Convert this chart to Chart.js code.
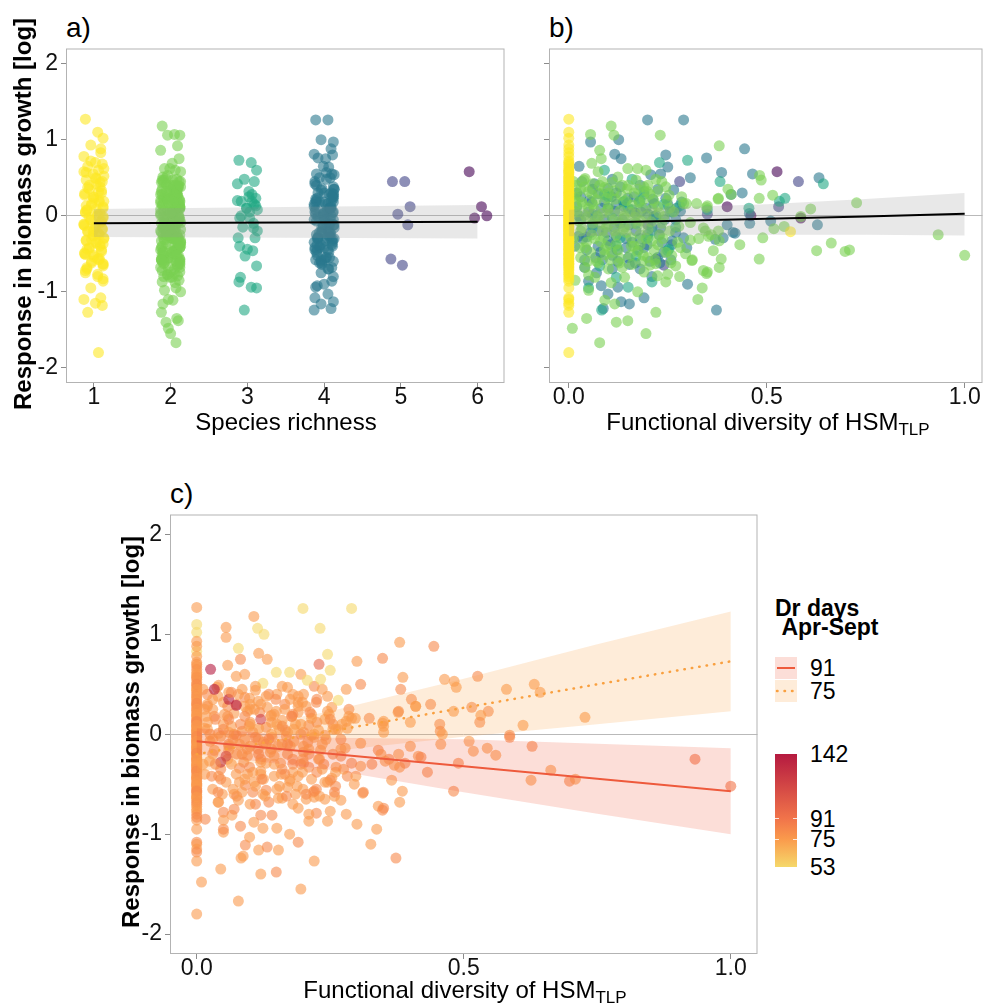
<!DOCTYPE html>
<html>
<head>
<meta charset="utf-8">
<script src="https://cdn.jsdelivr.net/npm/chart.js@4.4.1/dist/chart.umd.min.js"></script>
<style>
  html, body { margin: 0; padding: 0; background: #fff; }
  body { width: 988px; height: 1006px; position: relative; overflow: hidden;
         font-family: "Liberation Sans", Arial, sans-serif; color: #000; }
  .box { position: absolute; }
  .txt { position: absolute; white-space: nowrap; line-height: 1; }
  .mid { transform: translate(-50%, -50%); }
  .ytitle { transform: translate(-50%, -50%) rotate(-90deg); font-weight: bold; font-size: 24px; }
  .xtitle { font-size: 24px; }
  .tag { font-size: 28px; }
  .sub { font-size: 17px; position: relative; top: 5px; }
  .leg { font-size: 23px; }
</style>
</head>
<body>

<div class="box" style="left:0;top:43px;width:510px;height:380px"><canvas id="chartA"></canvas></div>
<div class="box" style="left:541px;top:43px;width:447px;height:380px"><canvas id="chartB"></canvas></div>
<div class="box" style="left:104px;top:509px;width:659px;height:485px"><canvas id="chartC"></canvas></div>

<div class="txt tag" style="left:66px;top:14px">a)</div>
<div class="txt tag" style="left:549px;top:14px">b)</div>
<div class="txt tag" style="left:170px;top:480px">c)</div>

<div class="txt ytitle" style="left:23px;top:214px">Response in biomass growth [log]</div>
<div class="txt ytitle" style="left:131px;top:732px">Response in biomass growth [log]</div>

<div class="txt xtitle mid" style="left:286px;top:422px">Species richness</div>
<div class="txt xtitle mid" style="left:768px;top:422px">Functional diversity of HSM<span class="sub">TLP</span></div>
<div class="txt xtitle mid" style="left:465px;top:990px">Functional diversity of HSM<span class="sub">TLP</span></div>

<div id="legend"></div>

<script>
// axis ticks
const yTicks = [-2, -1, 0, 1, 2];
const richTicks = [1, 2, 3, 4, 5, 6];
const fdTicks = [0, 0.5, 1];
const drBreaks = [53, 75, 91, 142];
const drFits = [91, 75];

// observations by species richness: [FD of HSM_TLP, response, Dr days Apr-Sept]
const rich1 = [
  [0,1.27,75],[0,1.10,53],[0,1.02,53],[0,0.93,75],[0,0.83,53],[0,0.78,75],[0,0.70,82],[0,0.68,75],
  [0,0.65,82],[0,0.60,75],[0,0.55,82],[0,0.52,75],[0,0.47,82],[0,0.42,75],[0,0.38,75],[0,0.35,82],
  [0,0.30,75],[0,0.27,82],[0,0.22,75],[0,0.18,75],[0,0.14,82],[0,0.10,75],[0,0.07,82],[0,0.04,75],
  [0,0.00,75],[0,-0.03,82],[0,-0.06,75],[0,-0.09,82],[0,-0.12,75],[0,-0.15,75],[0,-0.18,82],[0,-0.21,75],
  [0,-0.24,82],[0,-0.27,75],[0,-0.30,75],[0,-0.33,82],[0,-0.36,75],[0,-0.40,82],[0,-0.43,75],[0,-0.47,75],
  [0,-0.50,82],[0,-0.54,75],[0,-0.58,82],[0,-0.62,75],[0,-0.66,75],[0,-0.70,82],[0,-0.75,75],[0,-0.80,82],
  [0,-0.86,75],[0,-0.95,75],[0,-1.08,82],[0,-1.10,75],[0,-1.15,75],[0,-1.18,82],[0,-1.27,75],[0,-1.80,75],
  [0.56,-0.21,75],
  [0,0.62,75],[0,0.57,82],[0,0.49,75],[0,0.44,75],[0,0.40,82],[0,0.33,75],[0,0.29,75],[0,0.24,82],
  [0,0.20,75],[0,0.16,75],[0,0.12,82],[0,0.08,75],[0,0.05,75],[0,0.02,82],[0,-0.01,75],[0,-0.05,75],
  [0,-0.08,82],[0,-0.11,75],[0,-0.14,75],[0,-0.17,82],[0,-0.20,75],[0,-0.23,75],[0,-0.26,82],[0,-0.29,75],
  [0,-0.32,75],[0,-0.35,82],[0,-0.38,75],[0,-0.42,75],[0,-0.45,82],[0,-0.49,75],[0,-0.52,75],[0,-0.56,82],
  [0,-0.60,75],[0,-0.64,75],[0,-0.68,82],[0,-0.72,75],[0,-0.77,75],[0,-0.83,82],[0,0.72,75],[0,0.88,75],
  [0,0.58,75],[0,0.50,82],[0,0.45,75],[0,0.37,75],[0,0.31,82],[0,0.25,75],[0,0.19,75],[0,0.13,82],
  [0,0.09,75],[0,0.03,75],[0,-0.02,82],[0,-0.07,75],[0,-0.13,75],[0,-0.19,82],[0,-0.25,75],[0,-0.31,75],
  [0,-0.37,82],[0,-0.44,75],[0,-0.51,75],[0,-0.57,82],[0,-0.63,75]
];
const rich2 = [
  [0.107,1.18,75],[0.055,1.07,75],[0.114,1.06,53],[0.231,1.06,53],[0.38,0.92,75],[0.078,0.86,53],
  [0.058,0.69,75],[0.082,0.75,82],[0.174,0.62,53],[0.195,0.60,75],[0.149,0.62,53],[0.074,0.58,75],
  [0.124,0.51,53],[0.17,0.47,75],[0.22,0.48,82],[0.041,0.49,75],[0.19,0.38,75],[0.224,0.32,82],
  [0.253,0.27,75],[0.29,0.16,75],[0.323,0.16,82],[0.348,0.11,75],[0.377,0.22,75],[0.402,0.35,82],
  [0.05,0.32,75],[0.033,0.18,82],[0.095,0.23,75],[0.132,0.27,75],[0.041,0.01,75],[0.074,-0.01,82],
  [0.141,-0.03,75],[0.182,-0.07,75],[0.24,-0.01,82],[0.278,-0.14,75],[0.307,-0.09,75],[0.34,-0.16,82],
  [0.033,-0.16,75],[0.058,-0.25,75],[0.116,-0.20,82],[0.157,-0.29,75],[0.041,-0.42,75],[0.091,-0.51,82],
  [0.174,-0.47,75],[0.199,-0.55,75],[0.282,-0.42,82],[0.311,-0.59,75],[0.34,-0.72,75],[0.348,-0.76,82],
  [0.38,-0.68,75],[0.25,-0.77,75],[0.224,-0.79,82],[0.041,-0.68,75],[0.066,-0.81,75],[0.016,-0.85,82],
  [0.05,-0.98,75],[0.107,-0.88,75],[0.141,-0.81,82],[0.174,-1.00,75],[0.116,-1.16,75],[0.091,-1.11,82],
  [0.045,-1.35,75],[0.12,-1.40,75],[0.149,-1.38,82],[0.22,-1.27,75],[0.195,-1.55,75],[0.078,-1.67,75],
  [0.009,-1.48,75],[0.481,-0.57,82],[0.481,0.23,75],[0.486,0.47,75],[0.365,-0.46,75],[0.432,-0.38,82],
  [0.482,0.53,75],[0.515,0.27,82],[0.727,0.17,75],[0.611,0.09,75],[0.586,-0.01,82],[0.544,-0.14,75],
  [0.518,-0.17,75],[0.49,-0.29,82],[0.663,-0.36,75],[0.626,-0.46,75],[0.698,-0.47,82],[0.709,-0.45,75],
  [0.933,-0.25,91],[1.0,-0.52,91],[0.385,-0.57,75],[0.35,-0.74,82],[0.337,-0.95,75],[0.326,-1.10,75],
  [0.312,-0.58,82],[0.28,-0.80,75],[0.245,-0.87,75],[0.378,-0.20,75],[0.36,-0.25,82],[0.345,-0.20,75],
  [0.35,0.13,75],[0.41,0.28,75],[0.378,0.23,82],[0.297,0.16,75],[0.307,-0.32,75],[0.328,-0.30,82],
  [0.353,-0.27,75],[0.38,-0.33,75],
  [0.012,0.45,75],[0.02,0.40,82],[0.03,0.35,75],[0.06,0.42,75],[0.09,0.37,82],[0.11,0.44,75],
  [0.15,0.40,75],[0.02,0.28,82],[0.07,0.21,75],[0.10,0.12,75],[0.13,0.07,82],[0.16,0.14,75],
  [0.19,0.22,75],[0.21,0.09,82],[0.015,0.06,75],[0.05,0.10,75],[0.085,0.03,82],[0.17,0.02,75],
  [0.025,-0.07,75],[0.06,-0.10,82],[0.10,-0.12,75],[0.14,-0.15,75],[0.20,-0.18,82],[0.23,-0.25,75],
  [0.012,-0.30,75],[0.08,-0.34,82],[0.12,-0.37,75],[0.18,-0.38,75],[0.21,-0.33,82],[0.03,-0.55,75],
  [0.07,-0.60,75],[0.13,-0.56,82],[0.16,-0.64,75],[0.22,-0.63,75],[0.26,-0.52,82],[0.10,-0.70,75],
  [0.19,-0.74,75],[0.05,-0.78,82],[0.27,-0.66,75],[0.09,-0.45,75],
  [0.015,0.25,75],[0.035,0.15,82],[0.045,-0.02,75],[0.065,0.08,75],[0.075,0.30,82],[0.085,0.45,75],
  [0.095,-0.15,75],[0.105,0.02,82],[0.115,0.33,75],[0.125,-0.08,75],[0.135,0.40,82],[0.145,-0.22,75],
  [0.155,0.05,75],[0.165,0.30,82],[0.175,-0.12,75],[0.185,0.10,75],[0.195,-0.30,82],[0.205,0.28,75],
  [0.215,-0.45,75],[0.225,0.12,82],[0.235,-0.10,75],[0.245,0.38,75],[0.255,-0.20,82],[0.265,0.05,75],
  [0.275,-0.35,75],[0.285,0.25,82],[0.295,-0.50,75],[0.03,-0.20,75],[0.045,-0.35,82],[0.055,-0.48,75],
  [0.065,-0.30,75],[0.075,-0.62,82],[0.085,-0.20,75],[0.095,-0.40,75],[0.105,-0.58,82],[0.115,-0.05,75],
  [0.125,-0.45,75],[0.135,-0.68,82],[0.145,0.20,75],[0.155,-0.52,75],[0.165,-0.40,82],[0.175,0.35,75],
  [0.185,-0.60,75],[0.195,0.00,82],[0.205,-0.65,75],[0.215,0.20,75],[0.225,-0.38,82],[0.235,0.45,75],
  [0.245,-0.48,75],[0.255,0.10,82],[0.02,0.05,75],[0.04,0.38,75],[0.06,0.15,82],[0.08,-0.10,75],
  [0.10,0.30,75],[0.12,-0.25,82],[0.14,0.00,75],[0.16,-0.10,75],[0.18,-0.25,82],[0.20,0.40,75],
  [0.018,0.18,75],[0.028,-0.42,82],[0.038,0.47,75],[0.048,-0.60,75],[0.058,0.28,82],[0.068,-0.05,75],
  [0.078,0.40,75],[0.088,-0.28,82],[0.098,0.08,75],[0.108,-0.48,75],[0.118,0.22,82],[0.128,-0.62,75],
  [0.138,-0.18,75],[0.148,0.35,82],[0.158,-0.40,75],[0.168,-0.02,75],[0.178,0.18,82],[0.188,-0.52,75],
  [0.198,0.32,75],[0.208,-0.08,82],[0.218,-0.58,75],[0.228,0.04,75],[0.238,-0.30,82],[0.248,0.20,75],
  [0.258,-0.62,75]
];
const rich3 = [
  [0.30,0.73,75],[0.229,0.70,100],[0.09,0.60,75],[0.16,0.48,75],[0.382,0.45,82],[0.643,0.42,75],
  [0.19,0.32,75],[0.546,0.23,82],[0.14,0.19,75],[0.532,0.19,75],[0.455,0.10,82],[0.35,0.08,75],
  [0.22,-0.03,75],[0.11,-0.03,82],[0.06,-0.16,75],[0.27,-0.15,75],[0.20,-0.29,82],[0.13,-0.29,75],
  [0.253,-0.44,75],[0.25,-0.46,82],[0.17,-0.53,75],[0.078,-0.66,75],[0.12,-0.81,82],[0.21,-0.87,75],
  [0.15,-0.94,75],[0.05,-0.95,82],[0.083,-1.24,75],[0.24,0.15,75],[0.18,0.20,82],[0.10,0.25,75],
  [0.28,0.13,75],[0.07,0.00,82],[0.09,0.28,75],[0.15,0.10,75],[0.21,-0.20,82],[0.12,-0.40,75],
  [0.26,0.05,75],[0.17,-0.10,82]
];
const rich4 = [
  [0.199,1.26,53],[0.29,1.26,53],[0.055,0.97,75],[0.126,1.00,53],[0.444,0.88,82],[0.116,0.81,75],
  [0.132,0.75,75],[0.245,0.80,53],[0.348,0.76,82],[0.25,0.64,53],[0.026,0.65,142],[0.207,0.54,53],
  [0.232,0.55,53],[0.386,0.57,75],[0.307,0.50,82],[0.632,0.50,75],[0.464,0.55,75],[0.033,0.45,142],
  [0.438,0.30,82],[0.41,0.28,75],[0.099,0.36,75],[0.074,0.29,142],[0.149,0.23,75],[0.178,0.18,82],
  [0.215,0.16,75],[0.245,0.23,75],[0.265,0.34,53],[0.058,0.18,82],[0.02,0.12,75],[0.116,0.06,75],
  [0.166,0.04,82],[0.215,-0.01,75],[0.282,0.06,75],[0.456,0.03,82],[0.232,-0.16,75],[0.199,-0.25,75],
  [0.29,-0.29,82],[0.024,-0.27,75],[0.074,-0.40,75],[0.099,-0.33,82],[0.145,-0.42,75],[0.19,-0.42,75],
  [0.224,-0.55,82],[0.153,-0.64,75],[0.124,-0.60,75],[0.082,-0.92,82],[0.124,-0.94,75],[0.099,-1.03,75],
  [0.132,-1.13,82],[0.153,-1.16,75],[0.087,-1.22,75],[0.373,-1.24,82],[0.261,-0.33,75],[0.37,-0.31,75],
  [0.39,-0.29,82],[0.415,-0.22,75],[0.40,-0.12,75],[0.628,-0.12,82],[0.51,-0.07,75],[0.457,-0.10,75],
  [0.42,-0.23,82],[0.298,-0.42,75],[0.26,-0.38,75],[0.05,0.05,82],[0.09,-0.05,75],[0.13,-0.10,75],
  [0.17,-0.20,82],[0.06,-0.12,75],[0.11,-0.52,75],[0.04,-0.58,82],[0.18,-0.70,75],[0.21,-0.80,75],
  [0.07,-0.75,82],[0.14,0.12,75],[0.12,0.15,120],[0.03,-0.05,75],[0.16,-0.35,82],[0.12,-0.28,75],
  [0.08,-0.48,75],[0.20,0.02,82],[0.06,0.35,142],[0.18,0.40,75],[0.11,0.48,75],[0.27,-0.05,82],
  [0.23,-0.62,75],[0.05,-0.86,75],[0.19,-1.08,82],[0.30,-0.90,75],[0.045,-0.28,142],[0.055,-0.22,130],
  [0.03,0.25,75],[0.045,-0.45,82],[0.06,0.02,75],[0.075,-0.20,75],[0.09,0.18,82],[0.105,-0.38,75],
  [0.12,0.30,75],[0.135,-0.05,82],[0.15,-0.55,75],[0.165,0.25,75],[0.18,-0.30,82],[0.195,0.10,75],
  [0.21,-0.15,75],[0.225,0.35,82],[0.24,-0.48,75],[0.255,0.05,75],[0.27,-0.22,82],[0.285,0.18,75],
  [0.04,-0.68,75],[0.065,0.42,82],[0.085,-0.58,75],[0.10,0.10,75],[0.115,-0.15,82],[0.13,0.38,75],
  [0.145,-0.30,75],[0.16,0.08,82],[0.175,-0.45,75],[0.19,0.28,75],[0.205,-0.60,82],[0.22,0.00,75],
  [0.235,-0.35,75],[0.25,0.15,82],[0.015,-0.40,75],[0.02,0.30,75],[0.11,-0.70,82],
  [0.025,0.00,75],[0.035,-0.30,82],[0.052,0.20,75],[0.068,-0.55,75],[0.082,0.10,82],[0.095,-0.22,75],
  [0.108,0.25,75],[0.122,-0.45,82],[0.138,0.18,75],[0.152,-0.12,75],[0.168,-0.62,82],[0.182,0.05,75],
  [0.198,-0.38,75],[0.212,0.22,82],[0.228,-0.25,75],[0.242,-0.05,75],[0.258,-0.58,82],[0.272,0.10,75]
];
const rich5 = [
  [0.28,0.45,75],[0.58,0.45,75],[0.53,0.12,82],[0.35,0.02,75],[0.20,-0.12,75],[0.22,-0.57,82],[0.24,-0.65,75]
];
const rich6 = [
  [0.526,0.58,82],[0.40,0.12,75],[0.46,0.00,75],[0.586,-0.03,82]
];
const groups = [rich1, rich2, rich3, rich4, rich5, rich6];

// fitted lines and confidence bands
const fitAX = [1, 6];
const fitAY = [-0.10, -0.08];
const fitALo = [-0.28, -0.30];
const fitAHi = [0.09, 0.14];

const fitBX = [0, 0.25, 0.5, 0.75, 1];
const fitBY = [-0.10, -0.07, -0.04, -0.01, 0.025];
const fitBLo = [-0.27, -0.25, -0.25, -0.25, -0.26];
const fitBHi = [0.08, 0.11, 0.15, 0.22, 0.30];

const fitCX = [0, 0.25, 0.5, 0.75, 1];
const fit91Y = [-0.07, -0.195, -0.32, -0.445, -0.57];
const fit91Lo = [-0.20, -0.355, -0.58, -0.795, -1.00];
const fit91Hi = [0.06, -0.035, -0.05, -0.095, -0.14];
const fit75Y = [-0.20, 0.03, 0.265, 0.50, 0.73];
const fit75Lo = [-0.38, -0.17, -0.025, 0.10, 0.23];
const fit75Hi = [-0.02, 0.23, 0.555, 0.90, 1.23];

// styling
const viridis = ['#fde725', '#7ad151', '#22a884', '#2a788e', '#414487', '#440154'];
const drStops = [[53, [245, 216, 106]], [75, [250, 154, 76]], [91, [241, 116, 74]], [142, [181, 26, 64]]];
const jitter = [-0.11, 0.05, 0.12, -0.04, 0.09, -0.13, 0.02, 0.11, -0.08, 0.06, -0.01, 0.13,
                -0.10, 0.03, 0.08, -0.06, 0.10, -0.12, 0.00, 0.07, -0.03, 0.12, -0.09];
const fitColor = { 91: '#ee5a3c', 75: '#f9a040' };
const bandColor = { 91: 'rgba(239,90,60,0.2)', 75: 'rgba(249,160,64,0.2)' };
const greyBand = 'rgba(150,150,150,0.22)';
const font = '"Liberation Sans", Arial, sans-serif';

function drRgb(v) {
    for (let i = 1; i < drStops.length; i++) {
        const [v0, c0] = drStops[i - 1];
        const [v1, c1] = drStops[i];
        if (v <= v1 || i === drStops.length - 1) {
            const t = Math.max(0, Math.min(1, (v - v0) / (v1 - v0)));
            return c0.map((c, k) => Math.round(c + (c1[k] - c) * t));
        }
    }
}
function drColor(v, a) {
    const c = drRgb(v);
    return `rgba(${c[0]},${c[1]},${c[2]},${a})`;
}
function hexA(hex, a) {
    const n = parseInt(hex.slice(1), 16);
    return `rgba(${n >> 16},${(n >> 8) & 255},${n & 255},${a})`;
}

const frame = {
    id: 'frame',
    afterDraw(chart) {
        const { ctx, chartArea: a } = chart;
        ctx.save();
        ctx.strokeStyle = '#b3b3b3';
        ctx.lineWidth = 1;
        ctx.strokeRect(a.left + 0.5, a.top + 0.5, a.width - 1, a.height - 1);
        ctx.restore();
    }
};

function points(data, color, order) {
    return { type: 'scatter', data, backgroundColor: color, borderWidth: 0,
             pointRadius: 5.5, pointHoverRadius: 5.5, order };
}
function line(xs, ys, color, width, dash) {
    return { type: 'line', data: xs.map((x, i) => ({ x, y: ys[i] })), borderColor: color,
             borderWidth: width, borderDash: dash || [], borderCapStyle: dash ? 'round' : 'butt',
             pointRadius: 0, tension: 0, fill: false, order: 1 };
}
// two datasets: lower edge, then upper edge filled down to it
function band(xs, lo, hi, color, lowIndex) {
    return [
        { type: 'line', data: xs.map((x, i) => ({ x, y: lo[i] })), borderWidth: 0, pointRadius: 0,
          tension: 0, fill: false, order: 2 },
        { type: 'line', data: xs.map((x, i) => ({ x, y: hi[i] })), borderWidth: 0, pointRadius: 0,
          tension: 0, fill: { target: lowIndex }, backgroundColor: color, order: 2 }
    ];
}

function scales(xMin, xMax, xTicks, xLabel, yWidth, showY) {
    return {
        x: {
            type: 'linear', min: xMin, max: xMax,
            afterBuildTicks: s => { s.ticks = xTicks.map(v => ({ value: v })); },
            afterFit: s => { s.height = 40; s.paddingLeft = 0; s.paddingRight = 0; },
            ticks: { callback: xLabel, color: '#111', font: { family: font, size: 23 },
                     padding: -4, maxRotation: 0, autoSkip: false },
            grid: { drawOnChartArea: false, tickLength: 5, color: '#8c8c8c', tickColor: '#8c8c8c' },
            border: { display: false }
        },
        y: {
            type: 'linear', min: -2.2, max: 2.2,
            afterBuildTicks: s => { s.ticks = yTicks.map(v => ({ value: v })); },
            afterFit: s => { s.width = yWidth; s.paddingTop = 0; s.paddingBottom = 0; },
            ticks: { callback: v => showY ? String(v) : '', color: '#111',
                     font: { family: font, size: 23 }, padding: 3 },
            grid: { drawOnChartArea: true, tickLength: 5, tickColor: '#8c8c8c', lineWidth: 1,
                    color: c => (c.tick && c.tick.value === 0) ? '#b9b9b9' : 'rgba(0,0,0,0)' },
            border: { display: false }
        }
    };
}

function baseOptions(sc, padRight) {
    return {
        responsive: true, maintainAspectRatio: false, animation: false,
        layout: { padding: { top: 2, right: padRight, left: 0, bottom: 0 } },
        plugins: { legend: { display: false }, tooltip: { enabled: false } },
        scales: sc
    };
}

// a) response vs species richness
const dsA = [
    line(fitAX, fitAY, '#000', 2),
    ...band(fitAX, fitALo, fitAHi, greyBand, 1)
];
groups.forEach((g, k) => {
    dsA.push(points(g.map((d, i) => ({ x: richTicks[k] + jitter[i % jitter.length], y: d[1] })),
                    hexA(viridis[k], 0.6), 3));
});
new Chart(document.getElementById('chartA'), {
    type: 'scatter',
    data: { datasets: dsA },
    options: baseOptions(scales(0.637, 6.35, richTicks, v => String(v), 66, true), 3),
    plugins: [frame]
});

// b) response vs functional diversity, coloured by richness
const dsB = [
    line(fitBX, fitBY, '#000', 2),
    ...band(fitBX, fitBLo, fitBHi, greyBand, 1)
];
groups.forEach((g, k) => {
    dsB.push(points(g.map(d => ({ x: d[0], y: d[1] })), hexA(viridis[k], 0.6), 3));
});
new Chart(document.getElementById('chartB'), {
    type: 'scatter',
    data: { datasets: dsB },
    options: baseOptions(scales(-0.05, 1.045, fdTicks, v => v.toFixed(1), 8, false), 1),
    plugins: [frame]
});

// c) response vs functional diversity, coloured by drought days
const allObs = groups.flat();
const dsC = [
    line(fitCX, fit91Y, fitColor[91], 2),
    line(fitCX, fit75Y, fitColor[75], 2.5, [0.5, 7]),
    ...band(fitCX, fit91Lo, fit91Hi, bandColor[91], 2),
    ...band(fitCX, fit75Lo, fit75Hi, bandColor[75], 4)
];
dsC.push({
    ...points(allObs.map(d => ({ x: d[0], y: d[1], dr: d[2] })), 'rgba(0,0,0,0)', 3),
    backgroundColor: c => c.raw ? drColor(c.raw.dr, 0.6) : 'rgba(0,0,0,0)'
});
new Chart(document.getElementById('chartC'), {
    type: 'scatter',
    data: { datasets: dsC },
    options: baseOptions(scales(-0.05, 1.05, fdTicks, v => v.toFixed(1), 66, true), 2),
    plugins: [frame]
});

// legend for panel c
(function buildLegend() {
    const L = document.getElementById('legend');
    let html = '';
    html += '<div class="txt" style="left:775px;top:599px;font-weight:bold;font-size:23px;line-height:19px">Dr days<br>&nbsp;Apr-Sept</div>';
    drFits.forEach((d, i) => {
        const top = 657 + i * 23;
        const dash = d === 75 ? 'stroke-dasharray="0.5 7" stroke-linecap="round" stroke-width="2.5"' : 'stroke-width="2"';
        html += `<div class="box" style="left:775px;top:${top}px;width:22px;height:22px;background:${bandColor[d]}">` +
                `<svg width="22" height="22" style="display:block"><line x1="2" y1="11" x2="20" y2="11" stroke="${fitColor[d]}" ${dash}/></svg></div>`;
        html += `<div class="txt leg" style="left:810px;top:${top + 11}px;transform:translateY(-50%)">${d}</div>`;
    });
    const barTop = 754, barH = 113, lo = drBreaks[0], hi = drBreaks[drBreaks.length - 1];
    const stops = drStops.map(([v]) => `${drColor(v, 1)} ${((v - lo) / (hi - lo) * 100).toFixed(1)}%`).join(',');
    html += `<div class="box" style="left:775px;top:${barTop}px;width:22px;height:${barH}px;background:linear-gradient(to top,${stops})"></div>`;
    drBreaks.forEach(v => {
        const y = barTop + (hi - v) / (hi - lo) * barH;
        if (v !== lo && v !== hi) {
            html += `<div class="box" style="left:775px;top:${y - 0.5}px;width:4px;height:1px;background:rgba(255,255,255,0.8)"></div>`;
            html += `<div class="box" style="left:793px;top:${y - 0.5}px;width:4px;height:1px;background:rgba(255,255,255,0.8)"></div>`;
        }
        html += `<div class="txt leg" style="left:810px;top:${y}px;transform:translateY(-50%)">${v}</div>`;
    });
    L.innerHTML = html;
})();
</script>
</body>
</html>
